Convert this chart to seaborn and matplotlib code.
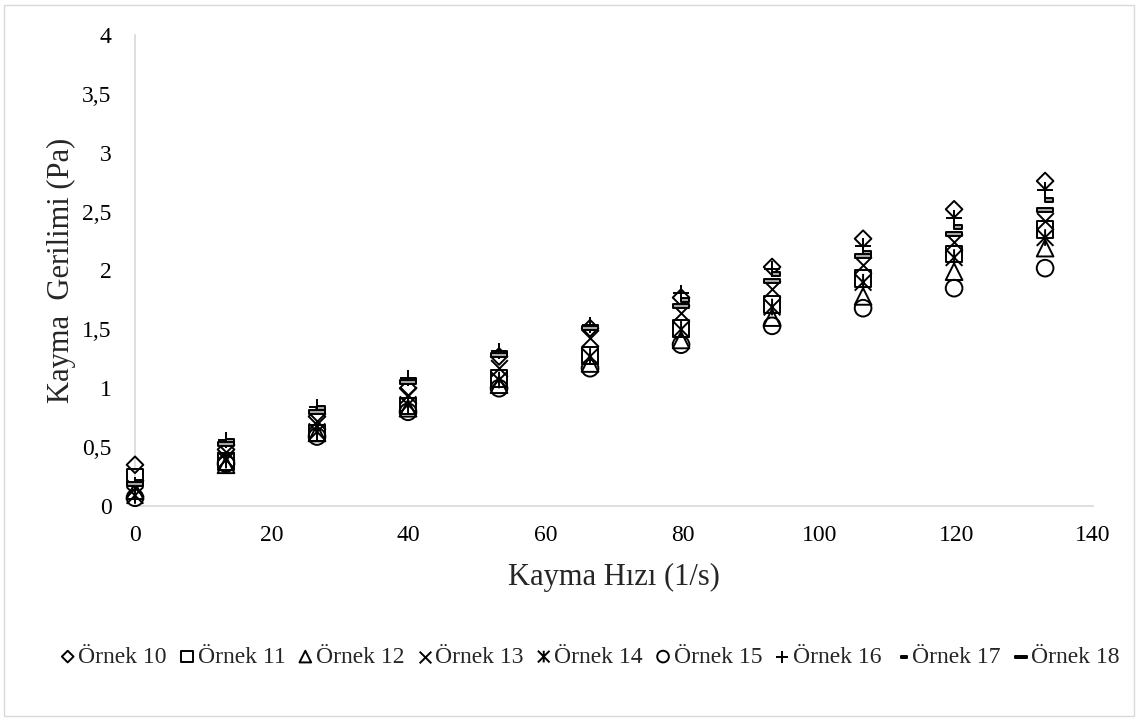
import numpy as np
import pandas as pd
import matplotlib
matplotlib.use("Agg")
import matplotlib.pyplot as plt
from matplotlib.path import Path
from matplotlib.patches import Rectangle
import seaborn as sns

# ---- data ----
shear_rate = [0, 13.3, 26.6, 39.9, 53.2, 66.5, 79.8, 93.1, 106.4, 119.7, 133]
ornek10 = [0.35, 0.48, 0.76, 1.00, 1.27, 1.51, 1.77, 2.03, 2.27, 2.52, 2.76]
ornek11 = [0.24, 0.38, 0.62, 0.85, 1.08, 1.28, 1.51, 1.71, 1.93, 2.14, 2.35]
ornek12 = [0.13, 0.35, 0.62, 0.83, 1.03, 1.21, 1.41, 1.60, 1.78, 1.99, 2.19]
ornek13 = [0.15, 0.46, 0.72, 0.94, 1.17, 1.43, 1.64, 1.84, 2.05, 2.24, 2.42]
ornek14 = [0.09, 0.39, 0.63, 0.86, 1.07, 1.27, 1.50, 1.69, 1.90, 2.11, 2.28]
ornek15 = [0.07, 0.36, 0.59, 0.80, 1.00, 1.17, 1.37, 1.53, 1.68, 1.85, 2.02]
ornek16 = [0.18, 0.56, 0.84, 1.09, 1.32, 1.54, 1.81, 2.01, 2.21, 2.45, 2.68]
ornek17 = [0.20, 0.55, 0.83, 1.07, 1.30, 1.52, 1.75, 1.97, 2.15, 2.37, 2.60]
ornek18 = [0.19, 0.53, 0.80, 1.05, 1.28, 1.51, 1.70, 1.91, 2.12, 2.31, 2.51]

series_names = ["Örnek 10", "Örnek 11", "Örnek 12", "Örnek 13", "Örnek 14",
                "Örnek 15", "Örnek 16", "Örnek 17", "Örnek 18"]
series_values = [ornek10, ornek11, ornek12, ornek13, ornek14,
                 ornek15, ornek16, ornek17, ornek18]

x_ticks = [0, 20, 40, 60, 80, 100, 120, 140]
y_ticks = [0, 0.5, 1, 1.5, 2, 2.5, 3, 3.5, 4]
y_tick_labels = ["0", "0,5", "1", "1,5", "2", "2,5", "3", "3,5", "4"]

# ---- marker shapes ----
asterisk = Path([(-1, -1), (1, 1), (-1, 1), (1, -1), (0, -1), (0, 1)],
                [Path.MOVETO, Path.LINETO, Path.MOVETO, Path.LINETO, Path.MOVETO, Path.LINETO])
short_dash = Path([(0, -0.22), (1, -0.22), (1, 0.22), (0, 0.22), (0, -0.22)],
                  [Path.MOVETO, Path.LINETO, Path.LINETO, Path.LINETO, Path.CLOSEPOLY])
long_dash = Path([(-1, -0.22), (1, -0.22), (1, 0.22), (-1, 0.22), (-1, -0.22)],
                 [Path.MOVETO, Path.LINETO, Path.LINETO, Path.LINETO, Path.CLOSEPOLY])

styles = [
    dict(marker="D", s=72, facecolor="none"),
    dict(marker="s", s=144, facecolor="none"),
    dict(marker="^", s=144, facecolor="none"),
    dict(marker="x", s=144),
    dict(marker=asterisk, s=144, facecolor="none"),
    dict(marker="o", s=144, facecolor="none"),
    dict(marker="+", s=144),
    dict(marker=short_dash, s=144, facecolor="#a6a6a6"),
    dict(marker=long_dash, s=144, facecolor="#a6a6a6"),
]

sns.set_theme(style="white")
plt.rcParams["font.family"] = ["Liberation Serif", "DejaVu Serif"]

fig = plt.figure(figsize=(11.39, 7.22), dpi=100)
ax = fig.add_axes([135 / 1139, 1 - 506 / 722, (1093 - 135) / 1139, (506 - 35) / 722])

for name, vals, st in zip(series_names, series_values, styles):
    df = pd.DataFrame({"x": shear_rate, "y": vals})
    kw = dict(st)
    sns.scatterplot(data=df, x="x", y="y", ax=ax, label=name, color="black",
                    edgecolor="black", linewidth=1.4, zorder=3, clip_on=False, **kw)

ax.set_xlim(0, 140)
ax.set_ylim(0, 4)
ax.set_xticks(x_ticks)
ax.set_xticklabels([str(t) for t in x_ticks])
ax.set_yticks(y_ticks)
ax.set_yticklabels(y_tick_labels)
ax.tick_params(axis="both", length=0, labelsize=17, colors="#000000")
ax.tick_params(axis="x", pad=14)
ax.tick_params(axis="y", pad=17)
ax.grid(False)
for side in ["top", "right"]:
    ax.spines[side].set_visible(False)
for side in ["left", "bottom"]:
    ax.spines[side].set_color("#d9d9d9")
    ax.spines[side].set_linewidth(1.2)
ax.set_xlabel("Kayma Hızı (1/s)", fontsize=22, labelpad=12)
ax.set_ylabel("Kayma  Gerilimi (Pa)", fontsize=22, labelpad=4)

ax.legend(loc="center", bbox_to_anchor=(589 / 1139, 0.09), bbox_transform=fig.transFigure,
          ncol=9, frameon=False, fontsize=17, markerscale=0.7,
          handletextpad=0.05, columnspacing=0.45, handlelength=0.8, borderpad=0)

fig.patches.append(Rectangle((4 / 1139, 6 / 722), 1130 / 1139, 711 / 722,
                             transform=fig.transFigure, fill=False,
                             edgecolor="#d9d9d9", linewidth=1.0))

fig.savefig("out.png", dpi=100)
